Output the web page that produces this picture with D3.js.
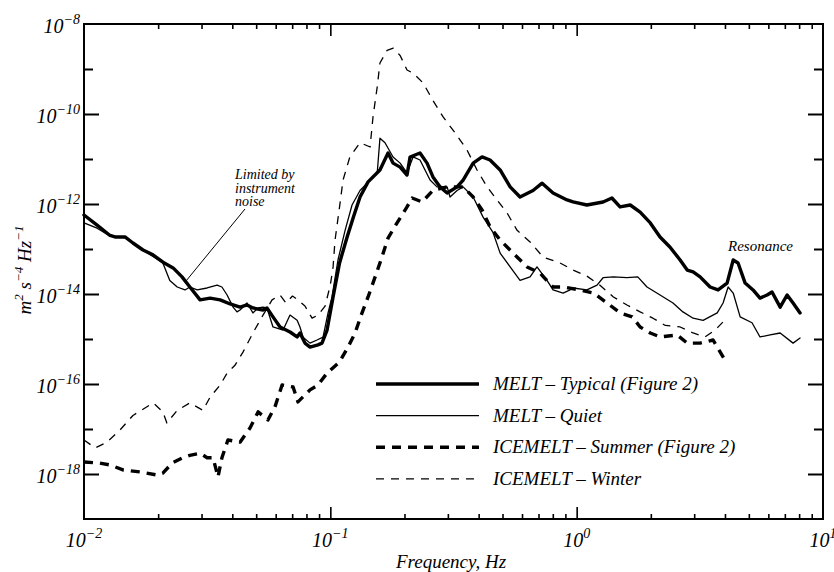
<!DOCTYPE html>
<html>
<head>
<meta charset="utf-8">
<script src="https://cdn.jsdelivr.net/npm/d3@7/dist/d3.min.js"></script>
<style>
  html, body { margin: 0; padding: 0; background: #fff; }
  svg text { font-family: "Liberation Serif", "DejaVu Serif", serif; font-style: italic; fill: #000; }
</style>
</head>
<body>
<svg id="chart" width="834" height="572"></svg>
<script>
// Acceleration power spectral density, [frequency (Hz), PSD (m^2 s^-4 Hz^-1)]
const meltTypical = [
  [0.0100, 5.7e-13], [0.0113, 3.4e-13], [0.01275, 2.0e-13], [0.01336, 1.85e-13], [0.01467, 1.85e-13],
  [0.0158, 1.36e-13], [0.01736, 9.5e-14], [0.01905, 7.4e-14], [0.02093, 5.1e-14], [0.0230, 3.8e-14],
  [0.0250, 2.4e-14], [0.0269, 1.43e-14], [0.0296, 7.4e-15], [0.0325, 8.1e-15], [0.0357, 7.4e-15],
  [0.0392, 6.0e-15], [0.0430, 5.1e-15], [0.0459, 5.7e-15], [0.0485, 4.9e-15], [0.0533, 4.4e-15],
  [0.0553, 4.9e-15], [0.0585, 3.1e-15], [0.0625, 1.85e-15], [0.0686, 1.43e-15], [0.0733, 1.11e-15],
  [0.0753, 1.36e-15], [0.0789, 8.1e-16], [0.0827, 6.6e-16], [0.0891, 7.4e-16], [0.0925, 8.1e-16],
  [0.097, 1.58e-15], [0.1026, 8.6e-15], [0.109, 4.9e-14], [0.117, 1.85e-13], [0.124, 5.1e-13],
  [0.132, 1.43e-12], [0.1423, 3.1e-12], [0.159, 5.7e-12], [0.1715, 1.36e-11], [0.1797, 8.1e-12],
  [0.192, 6.6e-12], [0.2048, 4.4e-12], [0.2107, 1.11e-11], [0.2312, 1.36e-11], [0.247, 8.1e-12],
  [0.261, 4.0e-12], [0.279, 2.4e-12], [0.298, 1.75e-12], [0.327, 2.4e-12], [0.346, 3.4e-12],
  [0.380, 8.1e-12], [0.413, 1.11e-11], [0.445, 9.5e-12], [0.489, 5.7e-12], [0.537, 2.4e-12],
  [0.589, 1.43e-12], [0.665, 2.0e-12], [0.724, 2.9e-12], [0.802, 1.75e-12], [0.914, 1.23e-12],
  [0.967, 1.11e-12], [1.10, 9.5e-13], [1.28, 1.11e-12], [1.39, 1.36e-12], [1.50, 8.6e-13],
  [1.65, 9.5e-13], [1.81, 6.6e-13], [1.99, 3.8e-13], [2.18, 1.85e-13], [2.39, 1.11e-13],
  [2.63, 5.7e-14], [2.81, 3.4e-14], [2.97, 3.1e-14], [3.17, 2.4e-14], [3.48, 1.43e-14],
  [3.75, 1.23e-14], [4.08, 1.75e-14], [4.32, 5.7e-14], [4.52, 4.9e-14], [4.83, 1.75e-14],
  [5.20, 1.23e-14], [5.55, 8.1e-15], [5.93, 9.5e-15], [6.21, 1.11e-14], [6.70, 5.1e-15],
  [7.15, 9.5e-15], [7.56, 6.3e-15], [8.07, 3.8e-15]
];

const meltQuiet = [
  [0.0100, 3.8e-13], [0.0113, 2.9e-13], [0.01275, 1.95e-13], [0.0147, 1.8e-13], [0.0174, 9.5e-14],
  [0.0209, 4.9e-14], [0.0223, 2.0e-14], [0.0239, 1.43e-14], [0.0257, 1.23e-14], [0.0269, 1.43e-14],
  [0.0288, 1.23e-14], [0.0316, 1.36e-14], [0.0347, 1.58e-14], [0.0363, 1.43e-14], [0.0381, 9.5e-15],
  [0.0403, 5.1e-15], [0.0418, 4.0e-15], [0.0430, 4.4e-15], [0.0459, 6.3e-15], [0.0485, 3.8e-15],
  [0.0509, 4.9e-15], [0.0533, 5.1e-15], [0.0553, 4.9e-15], [0.0585, 1.85e-15], [0.0643, 1.58e-15],
  [0.0686, 3.4e-15], [0.0733, 2.6e-15], [0.0753, 1.85e-15], [0.0775, 1.1e-15], [0.0827, 8.1e-16],
  [0.0883, 9.5e-16], [0.0934, 1.1e-15], [0.0979, 3.8e-15], [0.1016, 8.6e-15], [0.1074, 5.7e-14],
  [0.1148, 2.6e-13], [0.1225, 9.5e-13], [0.132, 2.0e-12], [0.145, 3.4e-12], [0.155, 4.9e-12],
  [0.159, 2.9e-11], [0.1667, 2.3e-11], [0.1797, 1.11e-11], [0.192, 8.1e-12], [0.2048, 4.9e-12],
  [0.2167, 1.11e-11], [0.2312, 9.5e-12], [0.254, 3.4e-12], [0.271, 2.4e-12], [0.298, 2.4e-12],
  [0.306, 1.43e-12], [0.327, 2.0e-12], [0.346, 2.4e-12], [0.380, 1.43e-12], [0.417, 5.1e-13],
  [0.458, 2.3e-13], [0.489, 8.1e-14], [0.537, 4.0e-14], [0.589, 2.0e-14], [0.647, 2.4e-14],
  [0.690, 4.0e-14], [0.758, 2.0e-14], [0.802, 1.23e-14], [0.881, 1.05e-14], [0.940, 1.23e-14],
  [0.967, 1.36e-14], [1.10, 1.23e-14], [1.21, 1.58e-14], [1.28, 2.3e-14], [1.41, 2.4e-14],
  [1.60, 2.3e-14], [1.77, 2.4e-14], [1.93, 1.43e-14], [2.18, 9.5e-15], [2.46, 6.3e-15],
  [2.70, 4.0e-15], [2.97, 2.9e-15], [3.26, 2.6e-15], [3.72, 3.8e-15], [3.93, 6.3e-15],
  [4.12, 1.43e-14], [4.32, 1.05e-14], [4.61, 3.1e-15], [5.15, 2.3e-15], [5.55, 1.11e-15],
  [6.10, 1.23e-15], [6.70, 1.36e-15], [7.56, 8.1e-16], [8.07, 1.05e-15]
];

const icemeltSummer = [
  [0.0100, 1.85e-18], [0.0116, 1.75e-18], [0.0128, 1.58e-18], [0.0144, 1.23e-18], [0.0169, 1.11e-18],
  [0.0198, 9.5e-19], [0.0209, 1.05e-18], [0.0228, 1.75e-18], [0.0252, 2.3e-18], [0.0269, 2.6e-18],
  [0.0296, 2.9e-18], [0.0316, 2.3e-18], [0.0334, 2.3e-18], [0.0350, 8.6e-19], [0.0363, 2.3e-18],
  [0.0384, 5.7e-18], [0.0430, 5.1e-18], [0.0472, 1.05e-17], [0.0509, 2.4e-17], [0.0558, 1.58e-17],
  [0.0596, 3.1e-17], [0.0637, 9.5e-17], [0.0706, 8.6e-17], [0.0739, 4.0e-17], [0.0827, 7.4e-17],
  [0.0891, 9.5e-17], [0.097, 1.75e-16], [0.109, 3.1e-16], [0.118, 6.6e-16], [0.126, 1.36e-15],
  [0.1345, 3.8e-15], [0.1423, 8.6e-15], [0.152, 2.4e-14], [0.162, 6.6e-14], [0.1715, 1.75e-13],
  [0.1866, 3.8e-13], [0.2048, 8.6e-13], [0.2147, 1.36e-12], [0.2357, 1.11e-12], [0.261, 2.0e-12],
  [0.298, 2.4e-12], [0.346, 2.4e-12], [0.380, 1.43e-12], [0.413, 7.4e-13], [0.445, 3.1e-13],
  [0.489, 1.58e-13], [0.552, 8.1e-14], [0.629, 4.0e-14], [0.710, 2.9e-14], [0.802, 1.43e-14],
  [0.881, 1.43e-14], [1.03, 1.23e-14], [1.17, 1.05e-14], [1.33, 6.3e-15], [1.50, 3.8e-15],
  [1.68, 3.1e-15], [1.81, 1.85e-15], [1.99, 1.36e-15], [2.18, 1.11e-15], [2.56, 1.23e-15],
  [2.81, 8.1e-16], [3.17, 8.1e-16], [3.58, 9.5e-16], [4.00, 3.4e-16]
];

const icemeltWinter = [
  [0.0100, 5.7e-18], [0.0111, 3.8e-18], [0.0124, 5.1e-18], [0.0140, 9.5e-18], [0.0158, 2.0e-17],
  [0.0191, 3.8e-17], [0.0209, 2.4e-17], [0.0217, 1.36e-17], [0.0239, 2.6e-17], [0.0269, 3.8e-17],
  [0.0304, 2.6e-17], [0.0325, 5.1e-17], [0.0357, 9.5e-17], [0.0381, 1.75e-16], [0.0410, 2.6e-16],
  [0.0442, 5.1e-16], [0.0485, 1.36e-15], [0.0533, 3.4e-15], [0.0580, 7.4e-15], [0.0625, 9.5e-15],
  [0.0661, 6.3e-15], [0.0702, 9.0e-15], [0.0739, 7.4e-15], [0.0789, 5.4e-15], [0.0843, 2.9e-15],
  [0.0891, 3.4e-15], [0.0952, 5.4e-15], [0.100, 1.58e-14], [0.1026, 4.0e-14], [0.1045, 1.58e-13],
  [0.109, 8.6e-13], [0.1126, 3.4e-12], [0.120, 1.11e-11], [0.132, 2.3e-11], [0.145, 1.85e-11],
  [0.149, 8.6e-11], [0.155, 4.0e-10], [0.159, 1.36e-9], [0.170, 2.6e-9], [0.180, 2.9e-9],
  [0.192, 2.0e-9], [0.2048, 9.5e-10], [0.2167, 8.1e-10], [0.238, 4.9e-10], [0.261, 2.0e-10],
  [0.287, 8.6e-11], [0.321, 3.8e-11], [0.359, 1.58e-11], [0.394, 5.7e-12], [0.433, 2.4e-12],
  [0.475, 1.23e-12], [0.522, 6.3e-13], [0.573, 2.6e-13], [0.647, 1.43e-13], [0.731, 6.6e-14],
  [0.856, 4.9e-14], [0.967, 3.4e-14], [1.10, 2.5e-14], [1.24, 1.58e-14], [1.41, 8.6e-15],
  [1.60, 5.7e-15], [1.81, 4.0e-15], [2.04, 2.9e-15], [2.29, 2.0e-15], [2.63, 1.85e-15],
  [2.97, 1.36e-15], [3.32, 1.11e-15], [3.65, 1.58e-15], [3.93, 2.4e-15]
];

const legendLabels = [
  "MELT \u2013 Typical (Figure 2)",
  "MELT \u2013 Quiet",
  "ICEMELT \u2013 Summer (Figure 2)",
  "ICEMELT \u2013 Winter"
];

// Tick labels written as powers of ten
const xTickExponents = [-2, -1, 0, 1];
const yTickExponents = [-8, -10, -12, -14, -16, -18];
const yMinorExponents = [-9, -11, -13, -15, -17];

(function draw() {
  const svg = d3.select("#chart");
  const left = 84, right = 823, plotTop = 24, plotBottom = 519;

  const x = d3.scaleLog().domain([0.01, 10]).range([left, right]);
  const y = d3.scaleLog().domain([1e-19, 1e-8]).range([plotBottom, plotTop]);

  // Series styling
  const series = [
    { data: meltTypical, width: 3.4, dash: null },
    { data: meltQuiet, width: 1.3, dash: null },
    { data: icemeltSummer, width: 3.4, dash: "9,7" },
    { data: icemeltWinter, width: 1.3, dash: "8,7" }
  ];

  const line = d3.line().x(d => x(d[0])).y(d => y(d[1])).curve(d3.curveLinear);

  const plot = svg.append("g");
  series.forEach(s => {
    plot.append("path")
      .datum(s.data)
      .attr("fill", "none")
      .attr("stroke", "#000")
      .attr("stroke-width", s.width)
      .attr("stroke-linejoin", "round")
      .attr("stroke-linecap", s.dash ? "butt" : "round")
      .attr("stroke-dasharray", s.dash)
      .attr("d", line);
  });

  // Frame
  svg.append("rect")
    .attr("x", left).attr("y", plotTop)
    .attr("width", right - left).attr("height", plotBottom - plotTop)
    .attr("fill", "none").attr("stroke", "#000").attr("stroke-width", 2);

  // Frequency ticks: decades long, intermediate short, pointing inward on both edges
  const xMajor = xTickExponents.map(e => Math.pow(10, e));
  const xMinor = x.ticks().filter(v => !xMajor.some(m => Math.abs(m - v) / m < 1e-6));

  function xAxes(values, len) {
    svg.append("g").attr("transform", `translate(0,${plotBottom})`)
      .call(d3.axisBottom(x).tickValues(values).tickSize(-len).tickFormat(""))
      .call(g => g.select(".domain").remove())
      .call(g => g.selectAll("line").attr("stroke-width", 1.6));
    svg.append("g").attr("transform", `translate(0,${plotTop})`)
      .call(d3.axisTop(x).tickValues(values).tickSize(-len).tickFormat(""))
      .call(g => g.select(".domain").remove())
      .call(g => g.selectAll("line").attr("stroke-width", 1.6));
  }
  xAxes(xMajor.slice(1, -1), 12);
  xAxes(xMinor, 5);

  function yAxes(values, len) {
    svg.append("g").attr("transform", `translate(${left},0)`)
      .call(d3.axisLeft(y).tickValues(values).tickSize(-len).tickFormat(""))
      .call(g => g.select(".domain").remove())
      .call(g => g.selectAll("line").attr("stroke-width", 2));
    svg.append("g").attr("transform", `translate(${right},0)`)
      .call(d3.axisRight(y).tickValues(values).tickSize(-len).tickFormat(""))
      .call(g => g.select(".domain").remove())
      .call(g => g.selectAll("line").attr("stroke-width", 2));
  }
  yAxes(yTickExponents.map(e => Math.pow(10, e)).filter(v => v < 1e-8), 15);
  yAxes(yMinorExponents.map(e => Math.pow(10, e)), 9);

  // Power-of-ten labels
  function powLabel(sel, exp) {
    sel.append("tspan").text("10");
    sel.append("tspan").attr("dy", -9).attr("font-size", 14).text(exp < 0 ? "\u2212" + (-exp) : exp);
  }

  xTickExponents.forEach(e => {
    const t = svg.append("text")
      .attr("x", x(Math.pow(10, e)))
      .attr("y", 547)
      .attr("font-size", 20)
      .attr("text-anchor", "middle");
    powLabel(t, e);
  });

  yTickExponents.forEach(e => {
    const t = svg.append("text")
      .attr("x", 80)
      .attr("y", y(Math.pow(10, e)) + 9)
      .attr("font-size", 20)
      .attr("text-anchor", "end");
    powLabel(t, e);
  });

  // Axis titles
  svg.append("text")
    .attr("x", 451).attr("y", 568)
    .attr("font-size", 19)
    .attr("text-anchor", "middle")
    .text("Frequency, Hz");

  const yt = svg.append("text")
    .attr("transform", "translate(31,270) rotate(-90)")
    .attr("font-size", 19)
    .attr("text-anchor", "middle");
  yt.append("tspan").text("m");
  yt.append("tspan").attr("dy", -8).attr("font-size", 13).text("2");
  yt.append("tspan").attr("dy", 8).text(" s");
  yt.append("tspan").attr("dy", -8).attr("font-size", 13).text("\u22124");
  yt.append("tspan").attr("dy", 8).text(" Hz");
  yt.append("tspan").attr("dy", -8).attr("font-size", 13).text("\u22121");

  // Annotations: three separate lines of text
  ["Limited by", "instrument", "noise"].forEach((s, i) => {
    svg.append("text")
      .attr("x", 235).attr("y", 179 + i * 13.5)
      .attr("font-size", 14)
      .text(s);
  });
  svg.append("line")
    .attr("x1", 245).attr("y1", 209)
    .attr("x2", 186).attr("y2", 281)
    .attr("stroke", "#000").attr("stroke-width", 1);

  svg.append("text")
    .attr("x", 728).attr("y", 251)
    .attr("font-size", 15)
    .text("Resonance");

  // Legend
  const legend = svg.append("g");
  series.forEach((s, i) => {
    const ly = 384 + i * 31.6;
    legend.append("line")
      .attr("x1", 376).attr("x2", 479)
      .attr("y1", ly).attr("y2", ly)
      .attr("stroke", "#000")
      .attr("stroke-width", s.width)
      .attr("stroke-dasharray", s.dash);
    legend.append("text")
      .attr("x", 493).attr("y", ly + 6)
      .attr("font-size", 19)
      .text(legendLabels[i]);
  });
})();
</script>
</body>
</html>
